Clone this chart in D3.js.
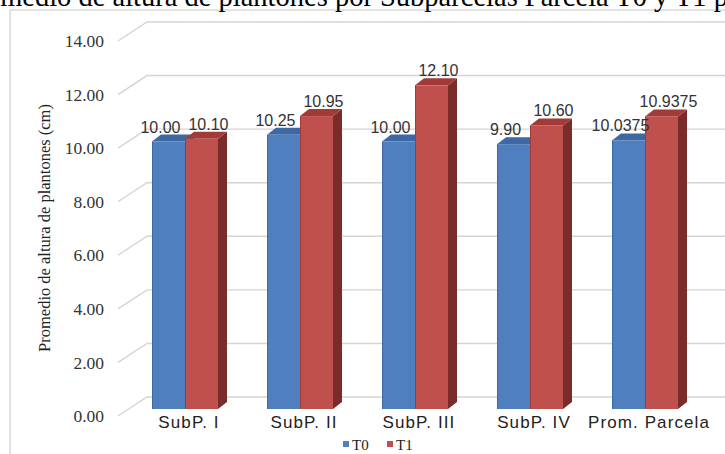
<!DOCTYPE html>
<html>
<head>
<meta charset="utf-8">
<script src="https://cdn.jsdelivr.net/npm/d3@7"></script>
<style>
  html, body { margin: 0; padding: 0; background: #fff; overflow: hidden; }
  svg { display: block; }
</style>
</head>
<body>
<script>
// Plot data
const categories = ["SubP. I", "SubP. II", "SubP. III", "SubP. IV", "Prom. Parcela"];
const seriesNames = ["T0", "T1"];
const valuesT0 = [10.00, 10.25, 10.00, 9.90, 10.0375];
const valuesT1 = [10.10, 10.95, 12.10, 10.60, 10.9375];
const labelsT0 = ["10.00", "10.25", "10.00", "9.90", "10.0375"];
const labelsT1 = ["10.10", "10.95", "12.10", "10.60", "10.9375"];
const yTicks = [0, 2, 4, 6, 8, 10, 12, 14];
const titleText = "Promedio de altura de plantones por Subparcelas Parcela T0 y T1 p";
const yAxisTitle = "Promedio de altura de plantones (cm)";

const W = 725, H = 454;
const svg = d3.select("body").append("svg").attr("width", W).attr("height", H);

const palette = {
  T0: { front: "#4f7fbe", top: "#3c68a3", side: "#2f5585" },
  T1: { front: "#c0504d", top: "#a23a37", side: "#7a2c2a" }
};

// 3D depth offsets
const depthX = 9, depthY = -7;       // bar top/side faces
const wallDX = 29, wallDY = -19;     // from front axis to back wall

// Scales
const yFront = d3.scaleLinear().domain([0, 14]).range([416, 41]);
const yBar = d3.scaleLinear().domain([0, 14]).range([409, 409 - 26.75 * 14]);
const x0 = d3.scaleBand().domain(categories).range([127.5, 702.5]).padding(0);
const groupW = 66;
const x1 = d3.scaleBand().domain(seriesNames).range([0, groupW]).padding(0);

// Chart frame
const frame = svg.append("g").attr("fill", "none").attr("stroke", "#d9d9d9").attr("stroke-width", 1.5);
frame.append("line").attr("x1", 10).attr("y1", 10).attr("x2", W + 2).attr("y2", 10);
frame.append("line").attr("x1", 10).attr("y1", 10).attr("x2", 10).attr("y2", H + 2);

// Title (runs past the top and sides of the page)
svg.append("text")
  .attr("x", W + 3).attr("y", 6)
  .attr("text-anchor", "end")
  .attr("font-family", "Liberation Serif, serif")
  .attr("font-size", 28.5)
  .attr("fill", "#000")
  .text(titleText);

// Back wall gridlines with side-wall stubs
const grid = svg.append("g").attr("stroke", "#d4d4d4").attr("stroke-width", 1.4).attr("fill", "none");
const wallX = 118;
yTicks.forEach(v => {
  const yf = yFront(v);
  grid.append("path")
    .attr("d", `M${wallX},${yf}L${wallX + wallDX},${yf + wallDY}L${W + 2},${yf + wallDY}`);
});

// Y axis tick labels
svg.append("g")
  .selectAll("text")
  .data(yTicks)
  .join("text")
  .attr("x", 104)
  .attr("y", d => yFront(d))
  .attr("dy", "0.35em")
  .attr("text-anchor", "end")
  .attr("font-family", "Liberation Serif, serif")
  .attr("font-size", 17.5)
  .attr("fill", "#333")
  .text(d => d3.format(".2f")(d));

// Y axis title
svg.append("text")
  .attr("transform", "translate(50,228) rotate(-90)")
  .attr("text-anchor", "middle")
  .attr("font-family", "Liberation Serif, serif")
  .attr("font-size", 16.5)
  .attr("fill", "#222")
  .text(yAxisTitle);

// Bars
const rows = categories.map((c, i) => ({ cat: c, T0: valuesT0[i], T1: valuesT1[i], L0: labelsT0[i], L1: labelsT1[i] }));
const base = yBar(0);
const bars = svg.append("g");

rows.forEach(r => {
  const gx = x0(r.cat) + (x0.bandwidth() - groupW) / 2;
  seriesNames.forEach(s => {
    const col = palette[s];
    const xa = gx + x1(s), xb = xa + x1.bandwidth();
    const yt = yBar(r[s]);
    const g = bars.append("g");
    // side face
    g.append("path")
      .attr("d", `M${xb},${yt}L${xb + depthX},${yt + depthY}L${xb + depthX},${base + depthY}L${xb},${base}Z`)
      .attr("fill", col.side);
    // top face
    g.append("path")
      .attr("d", `M${xa},${yt}L${xa + depthX},${yt + depthY}L${xb + depthX},${yt + depthY}L${xb},${yt}Z`)
      .attr("fill", col.top);
    // front face
    g.append("rect")
      .attr("x", xa).attr("y", yt)
      .attr("width", xb - xa).attr("height", base - yt)
      .attr("fill", col.front);
    g.append("line")
      .attr("x1", xa + 0.5).attr("x2", xa + 0.5).attr("y1", yt).attr("y2", base)
      .attr("stroke", col.top).attr("stroke-width", 1);
  });
});

// Value labels
const valueLabels = svg.append("g")
  .attr("font-family", "Liberation Sans, Arial, sans-serif")
  .attr("font-size", 16)
  .attr("fill", "#333")
  .attr("text-anchor", "middle");
rows.forEach(r => {
  const gx = x0(r.cat) + (x0.bandwidth() - groupW) / 2;
  [["T0", "L0", -8], ["T1", "L1", 7]].forEach(([s, lk, nudge]) => {
    const cx = gx + x1(s) + x1.bandwidth() / 2 + nudge;
    valueLabels.append("text")
      .attr("x", cx)
      .attr("y", yBar(r[s]) - 9)
      .text(r[lk]);
  });
});

// Category labels
svg.append("g")
  .selectAll("text")
  .data(categories)
  .join("text")
  .attr("x", d => x0(d) + x0.bandwidth() / 2 + 4)
  .attr("y", 428)
  .attr("text-anchor", "middle")
  .attr("font-family", "Liberation Sans, Arial, sans-serif")
  .attr("font-size", 17)
  .attr("letter-spacing", 1.1)
  .attr("fill", "#222")
  .text(d => d);

// Legend
const legend = svg.append("g");
const legendX = [343, 387];
seriesNames.forEach((s, i) => {
  legend.append("rect")
    .attr("x", legendX[i]).attr("y", 441)
    .attr("width", 6).attr("height", 6)
    .attr("fill", palette[s].front);
  legend.append("text")
    .attr("x", legendX[i] + 9).attr("y", 450)
    .attr("font-family", "Liberation Serif, serif")
    .attr("font-size", 15)
    .attr("fill", "#222")
    .text(s);
});
</script>
</body>
</html>
